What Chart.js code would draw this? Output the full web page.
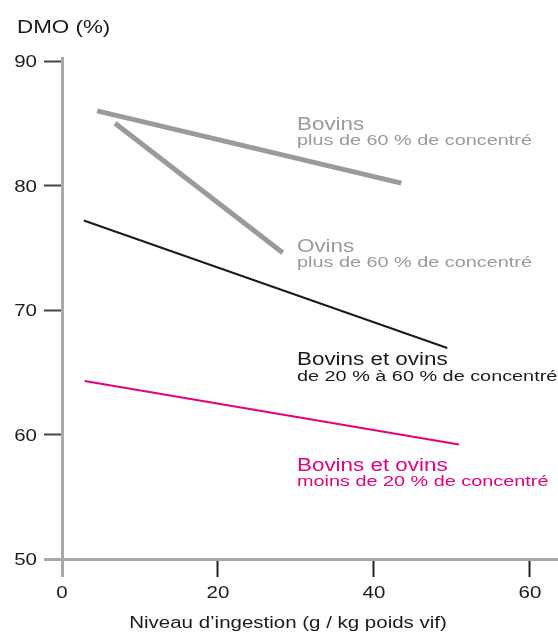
<!DOCTYPE html>
<html>
<head>
<meta charset="utf-8">
<script src="https://cdn.jsdelivr.net/npm/chart.js@4"></script>
<style>
  body { margin: 0; background: #fff; }
  canvas { display: block; }
</style>
</head>
<body>
<canvas id="graf" width="558" height="634"></canvas>
<script>
// valeurs (DMO en fonction du niveau d'ingestion)
const xTicks = [0, 20, 40, 60];
const yTicks = [50, 60, 70, 80, 90];

const bovins60X = [4.5, 43.5];
const bovins60Y = [86.0, 80.2];
const ovins60X = [6.8, 28.3];
const ovins60Y = [85.0, 74.6];
const mix2060X = [2.8, 49.4];
const mix2060Y = [77.2, 66.95];
const moins20X = [2.9, 50.9];
const moins20Y = [64.3, 59.2];

const yTitle = "DMO (%)";
const xTitle = "Niveau d\u2019ingestion (g / kg poids vif)";

const gris = "#9a9a9a";
const noir = "#1b1b1b";
const rose = "#e5007e";
const STRETCH = 1.28; // le texte de la figure est étiré horizontalement

function pts(xs, ys) {
  return xs.map((x, i) => ({ x: x, y: ys[i] }));
}

function texte(ctx, str, x, y, size, color, align) {
  ctx.save();
  ctx.translate(x, y);
  ctx.scale(STRETCH, 1);
  ctx.font = size + "px 'Liberation Sans', Arial, sans-serif";
  ctx.fillStyle = color;
  ctx.textAlign = align || "left";
  ctx.textBaseline = "alphabetic";
  ctx.fillText(str, 0, 0);
  ctx.restore();
}

// textes : graduations, titres d'axes et étiquettes des droites
const textesPlugin = {
  id: "textes",
  afterDraw(chart) {
    const ctx = chart.ctx;
    const sx = chart.scales.x;
    const sy = chart.scales.y;

    yTicks.forEach(v => {
      texte(ctx, String(v), 37, sy.getPixelForValue(v) + 6, 16, noir, "right");
    });
    xTicks.forEach(v => {
      texte(ctx, String(v), sx.getPixelForValue(v), 598, 16, noir, "center");
    });

    texte(ctx, yTitle, 17, 33, 17.5, noir);
    texte(ctx, xTitle, 288, 628, 16, noir, "center");

    texte(ctx, "Bovins", 297, 130, 17.5, gris);
    texte(ctx, "plus de 60 % de concentré", 297, 145, 15.5, gris);

    texte(ctx, "Ovins", 297, 252, 17.5, gris);
    texte(ctx, "plus de 60 % de concentré", 297, 267, 15.5, gris);

    texte(ctx, "Bovins et ovins", 297, 365, 17.5, noir);
    texte(ctx, "de 20 % à 60 % de concentré", 297, 381, 15.5, noir);

    texte(ctx, "Bovins et ovins", 297, 471, 17.5, rose);
    texte(ctx, "moins de 20 % de concentré", 297, 486, 15.5, rose);
  }
};

function serie(xs, ys, color, width) {
  return {
    data: pts(xs, ys),
    borderColor: color,
    borderWidth: width,
    borderCapStyle: "butt",
    pointRadius: 0,
    fill: false,
    tension: 0,
  };
}

const ctx = document.getElementById("graf");

new Chart(ctx, {
  type: "line",
  data: {
    datasets: [
      serie(bovins60X, bovins60Y, gris, 5),
      serie(ovins60X, ovins60Y, gris, 5),
      serie(mix2060X, mix2060Y, noir, 2),
      serie(moins20X, moins20Y, rose, 2),
    ],
  },
  options: {
    responsive: false,
    animation: false,
    layout: { padding: { top: 58, right: 0, left: 0, bottom: 0 } },
    plugins: {
      legend: { display: false },
      tooltip: { enabled: false },
    },
    scales: {
      x: {
        type: "linear",
        min: 0,
        max: 63.6,
        afterBuildTicks: (s) => { s.ticks = xTicks.map(v => ({ value: v })); },
        afterFit: (s) => { s.height = 75; },
        ticks: { display: false },
        grid: {
          display: true,
          drawOnChartArea: false,
          drawTicks: true,
          tickLength: 18,
          tickColor: (c) => (c.tick && c.tick.value === 0 ? "#a8a8a8" : "#222"),
          tickWidth: (c) => (c.tick && c.tick.value === 0 ? 3 : 2),
        },
        border: { display: true, color: "#a8a8a8", width: 3 },
      },
      y: {
        type: "linear",
        min: 50,
        max: 90.25,
        afterBuildTicks: (s) => { s.ticks = yTicks.map(v => ({ value: v })); },
        afterFit: (s) => { s.width = 62; },
        ticks: { display: false },
        grid: {
          display: true,
          drawOnChartArea: false,
          drawTicks: true,
          tickLength: 18,
          tickColor: (c) => (c.tick && c.tick.value === 50 ? "#a8a8a8" : "#444"),
          tickWidth: (c) => (c.tick && c.tick.value === 50 ? 3 : 2),
        },
        border: { display: true, color: "#a8a8a8", width: 3 },
      },
    },
  },
  plugins: [textesPlugin],
});
</script>
</body>
</html>
